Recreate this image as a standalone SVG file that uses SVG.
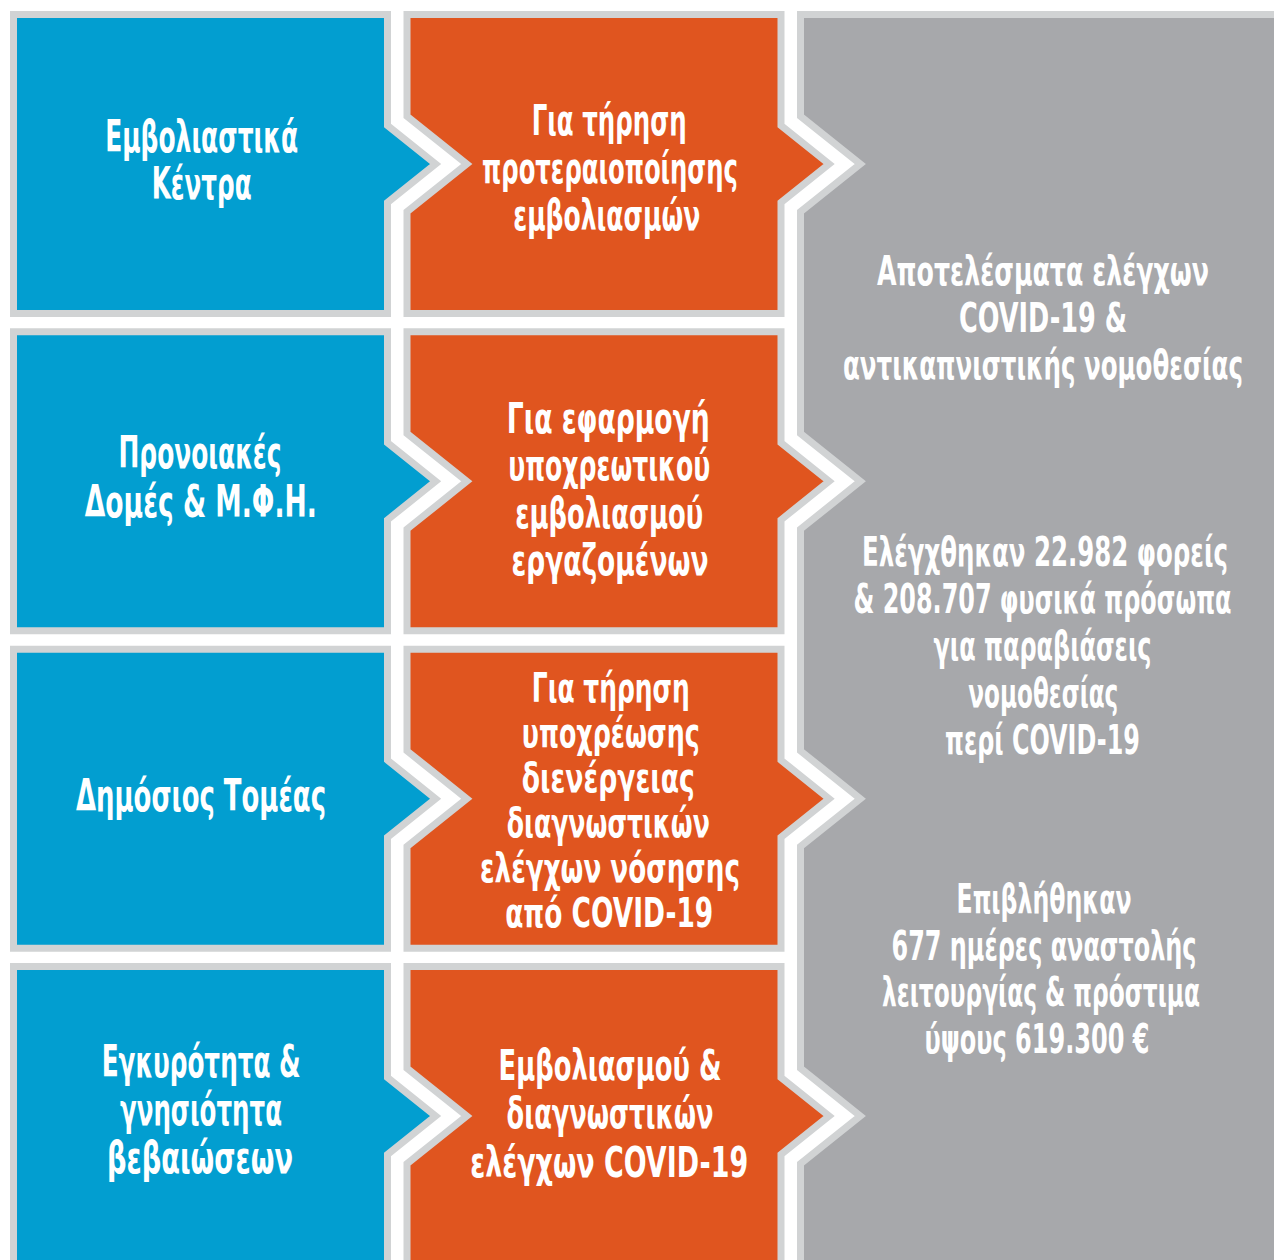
<svg xmlns="http://www.w3.org/2000/svg" width="1274" height="1260" viewBox="0 0 1274 1260">
<style>
.box{stroke:#D1D3D4;stroke-width:7;stroke-linejoin:miter;stroke-miterlimit:10}
.blue{fill:#029ED0}
.orange{fill:#E0551F}
.grey{fill:#A7A8AB}
text{font-family:"Liberation Sans Narrow","DejaVu Sans Condensed","Roboto Condensed","Liberation Sans",sans-serif;font-weight:bold;font-size:43px;fill:#FFFFFF;text-anchor:middle}
.tb{font-size:44px}
.to{font-size:42px}
.tt{font-size:40px}
.tg{font-size:41px}
</style>
<rect x="0" y="0" width="1274" height="1260" fill="#FFFFFF"/>
<g id="results-panel">
<path class="box grey" d="M800.5 14.5 H1290 V1290 H800.5 V1163.8 L860.3 1116 L800.5 1068.2 V846.5 L860.3 798.67 L800.5 750.87 V529.13 L860.3 481.33 L800.5 433.53 V211.8 L860.3 164 L800.5 116.2 Z"/>
<text class="tg" x="1043" y="285" textLength="332" lengthAdjust="spacingAndGlyphs">Αποτελέσματα ελέγχων</text>
<text class="tg" x="1043" y="332" textLength="168" lengthAdjust="spacingAndGlyphs">COVID-19 &amp;</text>
<text class="tg" x="1043" y="379" textLength="400" lengthAdjust="spacingAndGlyphs">αντικαπνιστικής νομοθεσίας</text>
<text class="tg" x="1045" y="566" textLength="366" lengthAdjust="spacingAndGlyphs">Ελέγχθηκαν 22.982 φορείς</text>
<text class="tg" x="1042.5" y="613" textLength="378" lengthAdjust="spacingAndGlyphs">&amp; 208.707 φυσικά πρόσωπα</text>
<text class="tg" x="1042.5" y="660" textLength="218" lengthAdjust="spacingAndGlyphs">για παραβιάσεις</text>
<text class="tg" x="1043.3" y="707" textLength="150" lengthAdjust="spacingAndGlyphs">νομοθεσίας</text>
<text class="tg" x="1042.5" y="754" textLength="195" lengthAdjust="spacingAndGlyphs">περί COVID-19</text>
<text class="tg" x="1044" y="913" textLength="175" lengthAdjust="spacingAndGlyphs">Επιβλήθηκαν</text>
<text class="tg" x="1044" y="960" textLength="305" lengthAdjust="spacingAndGlyphs">677 ημέρες αναστολής</text>
<text class="tg" x="1041" y="1006" textLength="318" lengthAdjust="spacingAndGlyphs">λειτουργίας &amp; πρόστιμα</text>
<text class="tg" x="1037" y="1053" textLength="225" lengthAdjust="spacingAndGlyphs">ύψους 619.300 €</text>
</g>
<g id="vaccination-centres">
<path class="box blue" d="M13.5 14.5 H387.5 V125.5 L435.6 164 L387.5 202.5 V313.5 H13.5 Z"/>
<text class="tb" x="201.7" y="151.7" textLength="193" lengthAdjust="spacingAndGlyphs">Εμβολιαστικά</text>
<text class="tb" x="201.7" y="199.3" textLength="100" lengthAdjust="spacingAndGlyphs">Κέντρα</text>
</g>
<g id="vaccination-priority">
<path class="box orange" d="M407 14.5 H781 V125.5 L829.1 164 L781 202.5 V313.5 H407 V211.8 L466.8 164 L407 116.2 Z"/>
<text class="to" x="609.2" y="135" textLength="155" lengthAdjust="spacingAndGlyphs">Για τήρηση</text>
<text class="to" x="610" y="183.3" textLength="256" lengthAdjust="spacingAndGlyphs">προτεραιοποίησης</text>
<text class="to" x="606.7" y="230" textLength="187" lengthAdjust="spacingAndGlyphs">εμβολιασμών</text>
</g>
<g id="welfare-structures">
<path class="box blue" d="M13.5 331.83 H387.5 V442.83 L435.6 481.33 L387.5 519.83 V630.83 H13.5 Z"/>
<text class="tb" x="200" y="468.3" textLength="163" lengthAdjust="spacingAndGlyphs">Προνοιακές</text>
<text class="tb" x="200.8" y="516.7" textLength="232" lengthAdjust="spacingAndGlyphs">Δομές &amp; Μ.Φ.Η.</text>
</g>
<g id="mandatory-vaccination">
<path class="box orange" d="M407 331.83 H781 V442.83 L829.1 481.33 L781 519.83 V630.83 H407 V529.13 L466.8 481.33 L407 433.53 Z"/>
<text class="to" x="608.3" y="433.3" textLength="203" lengthAdjust="spacingAndGlyphs">Για εφαρμογή</text>
<text class="to" x="609.2" y="480" textLength="202" lengthAdjust="spacingAndGlyphs">υποχρεωτικού</text>
<text class="to" x="609.2" y="528.3" textLength="188" lengthAdjust="spacingAndGlyphs">εμβολιασμού</text>
<text class="to" x="610" y="575" textLength="197" lengthAdjust="spacingAndGlyphs">εργαζομένων</text>
</g>
<g id="public-sector">
<path class="box blue" d="M13.5 649.17 H387.5 V760.17 L435.6 798.67 L387.5 837.17 V948.17 H13.5 Z"/>
<text class="tb" x="201" y="810.7" textLength="250" lengthAdjust="spacingAndGlyphs">Δημόσιος Τομέας</text>
</g>
<g id="diagnostic-tests">
<path class="box orange" d="M407 649.17 H781 V760.17 L829.1 798.67 L781 837.17 V948.17 H407 V846.47 L466.8 798.67 L407 750.87 Z"/>
<text class="tt" x="610.8" y="701.7" textLength="158" lengthAdjust="spacingAndGlyphs">Για τήρηση</text>
<text class="tt" x="610.8" y="746.7" textLength="178" lengthAdjust="spacingAndGlyphs">υποχρέωσης</text>
<text class="tt" x="608.3" y="791.7" textLength="173" lengthAdjust="spacingAndGlyphs">διενέργειας</text>
<text class="tt" x="608.3" y="836.7" textLength="203" lengthAdjust="spacingAndGlyphs">διαγνωστικών</text>
<text class="tt" x="610" y="881.7" textLength="260" lengthAdjust="spacingAndGlyphs">ελέγχων νόσησης</text>
<text class="tt" x="609.2" y="926.7" textLength="208" lengthAdjust="spacingAndGlyphs">από COVID-19</text>
</g>
<g id="certificate-validity">
<path class="box blue" d="M13.5 966.5 H387.5 V1077.5 L435.6 1116 L387.5 1154.5 V1265.5 H13.5 Z"/>
<text class="tb" x="201.2" y="1077" textLength="199" lengthAdjust="spacingAndGlyphs">Εγκυρότητα &amp;</text>
<text class="tb" x="201" y="1125" textLength="162" lengthAdjust="spacingAndGlyphs">γνησιότητα</text>
<text class="tb" x="200" y="1173" textLength="186" lengthAdjust="spacingAndGlyphs">βεβαιώσεων</text>
</g>
<g id="vaccination-tests">
<path class="box orange" d="M407 966.5 H781 V1077.5 L829.1 1116 L781 1154.5 V1265.5 H407 V1163.8 L466.8 1116 L407 1068.2 Z"/>
<text class="to" x="610" y="1080" textLength="223" lengthAdjust="spacingAndGlyphs">Εμβολιασμού &amp;</text>
<text class="to" x="610" y="1128.3" textLength="207" lengthAdjust="spacingAndGlyphs">διαγνωστικών</text>
<text class="to" x="609.2" y="1176.7" textLength="278" lengthAdjust="spacingAndGlyphs">ελέγχων COVID-19</text>
</g>
<g id="connectors"></g>
</svg>
